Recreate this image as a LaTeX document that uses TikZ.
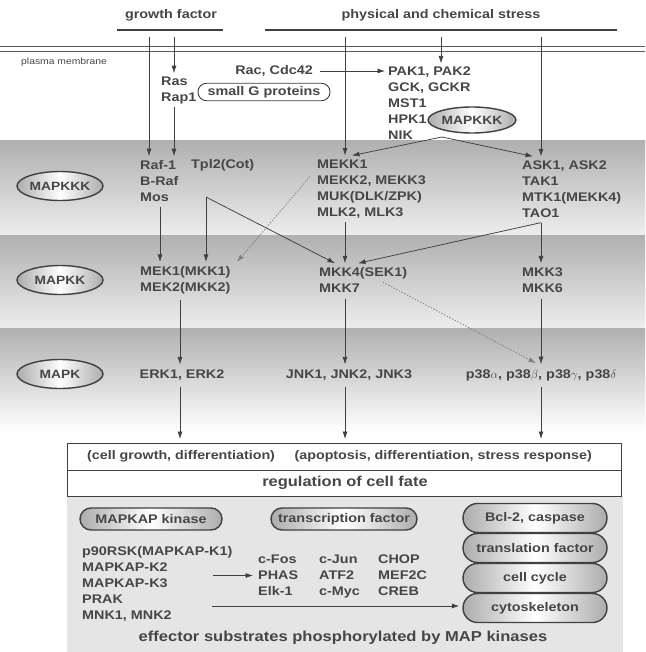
\documentclass[tikz,border=0pt]{standalone}
\usepackage{fontspec}
\setmainfont{Liberation Sans}[FakeStretch=1.15]
\usetikzlibrary{arrows.meta,shapes.geometric,calc}
\definecolor{txt}{HTML}{464646}
\definecolor{lnc}{HTML}{404040}
\begin{document}
\begin{tikzpicture}[x=1pt,y=-1pt,
  lbl/.style={font=\fontsize{12.5}{16}\selectfont\bfseries, text=txt, inner sep=0pt, align=left},
  ctr/.style={lbl, align=center},
  arr/.style={-{Latex[length=7.5pt,width=5pt]}, draw=lnc, line width=0.75pt},
  dotarr/.style={arr, dash pattern=on 1.5pt off 1.5pt, draw=gray},
  ell/.style={ellipse, draw=lnc, line width=1.4pt, left color=gray!65, right color=gray!65, middle color=white, minimum width=86pt, minimum height=29pt, inner sep=0pt, font=\fontsize{12}{16}\selectfont\bfseries, text=txt},
  pill/.style={rectangle, draw=lnc, line width=1.4pt, left color=gray!65, right color=gray!65, middle color=white, inner sep=0pt, font=\fontsize{12.5}{16}\selectfont\bfseries, text=txt},
  rowbox/.style={draw=lnc, line width=0.8pt, fill=white, minimum width=554pt, minimum height=26.5pt, anchor=north west, inner sep=0pt},
]
\useasboundingbox (0,0) rectangle (645,652);
\fill[white] (0,0) rectangle (645,652);
% bands
\shade[top color=gray!62, bottom color=gray!14] (0,141) rectangle (645,235);
\shade[top color=gray!62, bottom color=gray!14] (0,235) rectangle (645,328);
\shade[top color=gray!62, bottom color=white] (0,328) rectangle (645,432);
\fill[gray!20] (67,496) rectangle (623,652);

% top
\node[ctr] (gf) at (171,15) {growth factor};
\node[ctr] (ps) at (441,15) {physical and chemical stress};
\draw[lnc, line width=2.2pt] (117,30) -- (223,30);
\draw[lnc, line width=2.2pt] (265,30) -- (617,30);
\draw[gray!70!black, line width=0.7pt] (0,46.5) -- (645,46.5) (0,51.5) -- (645,51.5);
\node[font=\fontsize{9}{10}\selectfont, text=txt, anchor=west, inner sep=0pt] (pm) at (21,62) {plasma membrane};

\coordinate (g1) at (149,37);
\coordinate (g2) at (174,37);
\coordinate (s1) at (345,37);
\coordinate (s2) at (441,37);
\coordinate (s3) at (541,37);
\coordinate (xe) at (180,0);

\node[lbl, anchor=west] (ras) at (161,90) {Ras\\Rap1};
\node[draw=lnc, line width=0.9pt, fill=white, rounded corners=8.5pt, minimum width=132pt, minimum height=17.5pt, inner sep=0pt, font=\fontsize{12.5}{16}\selectfont\bfseries, text=txt] (sgp) at (264,92) {small G proteins};
\node[lbl, anchor=east] (rac) at (313,71) {Rac, Cdc42};
\node[lbl, anchor=west] (pak) at (388,103) {PAK1, PAK2\\GCK, GCKR\\MST1\\HPK1\\NIK};
\node[ell, minimum width=88pt, minimum height=26pt] (mk0) at (472,120) {MAPKKK};
\draw[arr] ([xshift=7pt]rac.east) -- ([xshift=-3pt]pak.west |- rac.east);
\draw[arr] (s2) -- ($(s2 |- pak.north)+(0,-3)$);

% band 1
\node[ell] (e1) at (60,186) {MAPKKK};
\node[lbl, anchor=west] (raf) at (140,181) {Raf-1\\B-Raf\\Mos};
\node[lbl, anchor=west] (tpl) at (191,165) {Tpl2(Cot)};
\node[lbl, anchor=west] (mekk) at (317,189) {MEKK1\\MEKK2, MEKK3\\MUK(DLK/ZPK)\\MLK2, MLK3};
\node[lbl, anchor=west] (ask) at (522,189) {ASK1, ASK2\\TAK1\\MTK1(MEKK4)\\TAO1};

\draw[arr] (g1) -- ($(g1 |- raf.north)+(0,-4)$);
\draw[arr] (g2) -- ($(g2 |- ras.north)+(0,-3)$);
\draw[arr] ($(g2 |- ras.south)+(0,3)$) -- ($(g2 |- raf.north)+(0,-4)$);
\draw[arr] (s1) -- ($(s1 |- mekk.north)+(0,-4)$);
\draw[arr] (s3) -- ($(s3 |- ask.north)+(0,-4)$);
\coordinate (nk) at (442,137);
\draw[arr] (nk) -- ($(mekk.north west)+(35,-4)$);
\draw[arr] (nk) -- ($(ask.north west)+(11,-4)$);

% band 2
\node[ell] (e2) at (60,280) {MAPKK};
\node[lbl, anchor=west] (mek) at (140,280) {MEK1(MKK1)\\MEK2(MKK2)};
\node[lbl, anchor=west] (mkk4) at (319,280) {MKK4(SEK1)\\MKK7};
\node[lbl, anchor=west] (mkk3) at (522,280) {MKK3\\MKK6};

\draw[arr] ($(raf.south west)+(20,5)$) -- ($(mek.north west)+(20,-4)$);
\coordinate (tc) at ($(tpl.south west)+(15,26)$);
\draw[arr] (tc) -- ($(tc |- mek.north)+(0,-4)$);
\draw[arr] (tc) -- ($(mkk4.north west)+(16,-4)$);
\draw[dotarr] ($(mekk.north west)+(-7,17)$) -- ($(mek.north west)+(97,-4)$);
\draw[arr] ($(s1 |- mekk.south)+(0,4)$) -- ($(s1 |- mkk4.north)+(0,-4)$);
\coordinate (tac) at ($(s3 |- ask.south)+(0,5)$);
\draw[arr] (tac) -- ($(s3 |- mkk3.north)+(0,-4)$);
\draw[arr] (tac) -- ($(mkk4.north west)+(39,-4)$);

% band 3
\node[ell] (e3) at (60,374) {MAPK};
\node[ctr] (erk) at (182,375) {ERK1, ERK2};
\node[ctr] (jnk) at (349,375) {JNK1, JNK2, JNK3};
\node[ctr] (p38) at (541,375) {p38$\alpha$, p38$\beta$, p38$\gamma$, p38$\delta$};

\draw[arr] ($(xe |- mek.south)+(0,6)$) -- ($(xe |- erk.north)+(0,-5)$);
\draw[arr] ($(s1 |- mkk4.south)+(0,6)$) -- ($(s1 |- jnk.north)+(0,-5)$);
\draw[arr] ($(s3 |- mkk3.south)+(0,6)$) -- ($(s3 |- p38.north)+(0,-5)$);
\draw[dotarr] ($(mkk4.north west)+(64,15)$) -- ($(s3 |- p38.north)+(-5,-6)$);

% result box
\node[rowbox] (row1) at (67,443) {};
\node[rowbox] (row2) at (67,469.5) {};
\node[lbl, font=\fontsize{12.4}{16}\selectfont\bfseries, anchor=west] (cg) at (87,456) {(cell growth, differentiation)};
\node[lbl, font=\fontsize{12.4}{16}\selectfont\bfseries, anchor=east] (ap) at (592,456) {(apoptosis, differentiation, stress response)};
\node[ctr, font=\fontsize{14.3}{16}\selectfont\bfseries] (reg) at (345,483) {regulation of cell fate};

\draw[arr] ($(xe |- erk.south)+(0,6)$) -- ($(xe |- row1.north)+(0,-4)$);
\draw[arr] ($(s1 |- jnk.south)+(0,6)$) -- ($(s1 |- row1.north)+(0,-4)$);
\draw[arr] ($(s3 |- p38.south)+(0,6)$) -- ($(s3 |- row1.north)+(0,-4)$);

% effectors
\node[pill, minimum width=142pt, minimum height=22pt, rounded corners=11pt] (mapkap) at (151,519) {MAPKAP kinase};
\node[pill, minimum width=146pt, minimum height=22pt, rounded corners=11pt] (tf) at (344,519) {transcription factor};
\node[pill, minimum width=144pt, minimum height=29pt, rounded corners=14.5pt] (bcl) at (535,518) {Bcl-2, caspase};
\node[pill, minimum width=144pt, minimum height=29pt, rounded corners=14.5pt] (trl) at (535,548) {translation factor};
\node[pill, minimum width=144pt, minimum height=29pt, rounded corners=14.5pt] (cc) at (535,578) {cell cycle};
\node[pill, minimum width=144pt, minimum height=29pt, rounded corners=14.5pt] (cyto) at (535,608) {cytoskeleton};

\node[lbl, anchor=north west] (kl) at (82,546) {p90RSK(MAPKAP-K1)\\MAPKAP-K2\\MAPKAP-K3\\PRAK\\MNK1, MNK2};
\node[lbl, anchor=north west] (fos) at (258,555) {c-Fos\\PHAS\\Elk-1};
\node[lbl, anchor=north west] (jun) at (319,555) {c-Jun\\ATF2\\c-Myc};
\node[lbl, anchor=north west] (chop) at (378,555) {CHOP\\MEF2C\\CREB};

\draw[arr] ($(fos.west)+(-45,0)$) -- ($(fos.west)+(-5,0)$);
\draw[arr] ($(cyto.west)+(-250,-2)$) -- ($(cyto.west)+(-3,-2)$);

\node[ctr, font=\fontsize{14.4}{16}\selectfont\bfseries] (eff) at (343,638) {effector substrates phosphorylated by MAP kinases};
\end{tikzpicture}
\end{document}
